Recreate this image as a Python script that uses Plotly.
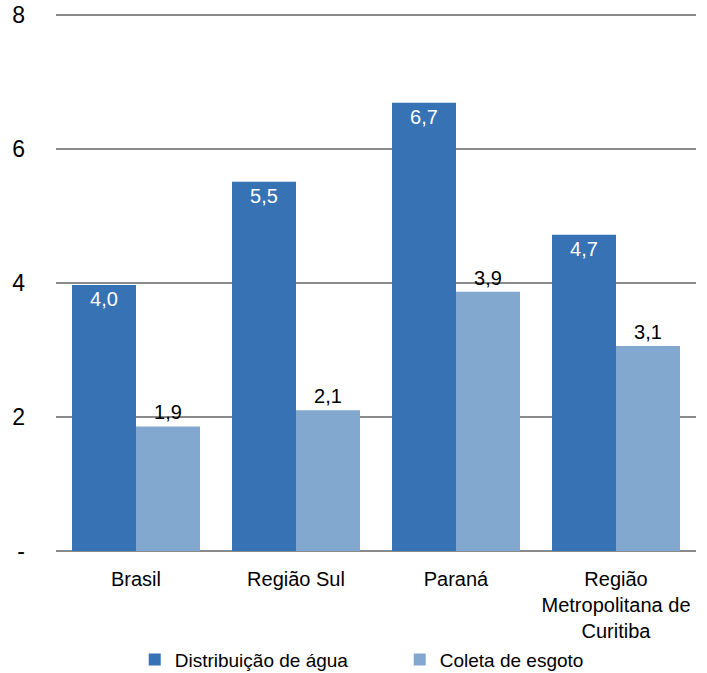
import plotly.graph_objects as go

categories = ["Brasil", "Região Sul", "Paraná", "Região<br>Metropolitana de<br>Curitiba"]
agua_values = [3.97, 5.51, 6.69, 4.72]
agua_labels = ["4,0", "5,5", "6,7", "4,7"]
esgoto_values = [1.86, 2.1, 3.87, 3.06]
esgoto_labels = ["1,9", "2,1", "3,9", "3,1"]
series_names = ["Distribuição de água", "Coleta de esgoto"]
y_tickvals = [0, 2, 4, 6, 8]
y_ticktext = ["-", "2", "4", "6", "8"]

FONT = "Liberation Sans, Arial, sans-serif"
DARK = "#3672B4"
LIGHT = "#83A8D0"
GRID = "#8A8A8A"

fig = go.Figure()
fig.add_trace(go.Bar(
    x=categories, y=agua_values, name=series_names[0],
    marker=dict(color=DARK, line=dict(width=0)),
    text=agua_labels, textposition="inside", insidetextanchor="end",
    textfont=dict(color="white", size=20, family=FONT),
    textangle=0, cliponaxis=False,
))
fig.add_trace(go.Bar(
    x=categories, y=esgoto_values, name=series_names[1],
    marker=dict(color=LIGHT, line=dict(width=0)),
    text=esgoto_labels, textposition="outside",
    textfont=dict(color="black", size=20, family=FONT),
    textangle=0, cliponaxis=False,
))

fig.update_layout(
    width=707, height=673,
    margin=dict(l=56, r=11, t=13, b=122, autoexpand=False),
    paper_bgcolor="white", plot_bgcolor="white",
    font=dict(family=FONT, size=20, color="black"),
    barmode="group", bargap=0.2, bargroupgap=0,
    showlegend=True,
    legend=dict(
        orientation="h", x=0.123, xanchor="left", y=-0.202, yanchor="middle",
        font=dict(size=19, family=FONT), entrywidth=220, entrywidthmode="pixels",
        itemclick=False, tracegroupgap=0,
    ),
    xaxis=dict(
        showgrid=False, showline=False, ticks="", ticklabelstandoff=14,
        tickfont=dict(size=20, family=FONT),
    ),
    yaxis=dict(
        range=[0, 8.03], tickvals=y_tickvals, ticktext=y_ticktext,
        showgrid=True, gridcolor=GRID, gridwidth=2,
        zeroline=True, zerolinecolor=GRID, zerolinewidth=2,
        showline=False, ticks="", ticklabelstandoff=30,
        ticklabeloverflow="allow",
        tickfont=dict(size=23, family=FONT),
    ),
)

fig.write_html(
    "out.html",
    config={"displayModeBar": False},
    post_script="document.body.style.margin='0';document.body.style.overflow='hidden';",
)
